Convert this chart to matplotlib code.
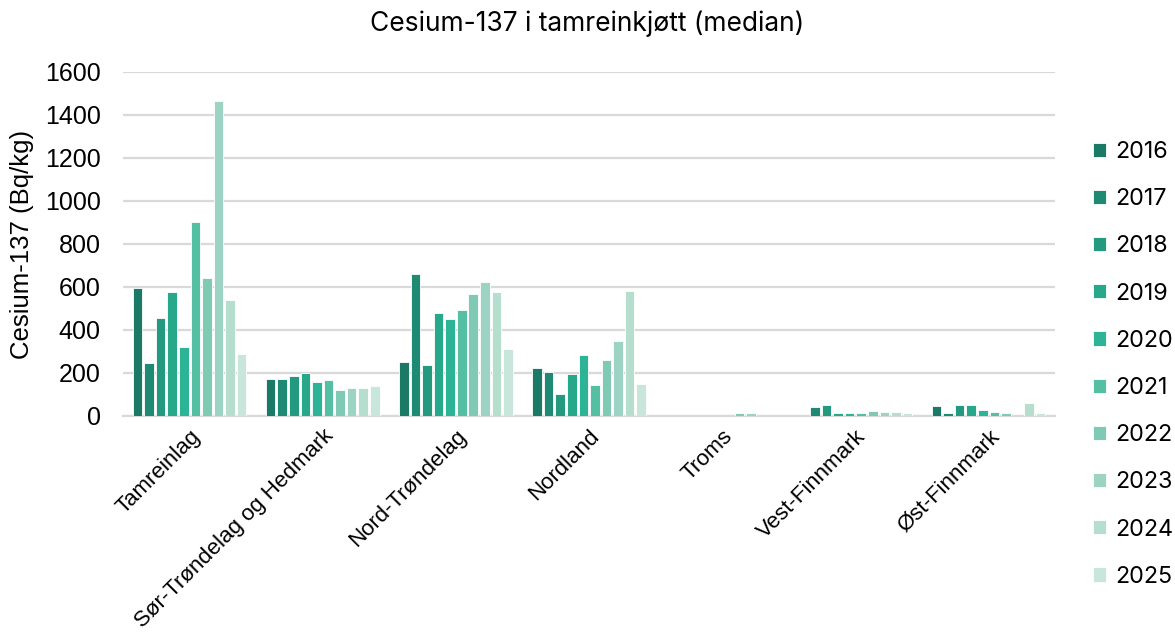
import numpy as np
import matplotlib
matplotlib.use('Agg')
import matplotlib.pyplot as plt

regions = ['Tamreinlag', 'Sør-Trøndelag og Hedmark', 'Nord-Trøndelag', 'Nordland',
           'Troms', 'Vest-Finnmark', 'Øst-Finnmark']
years = ['2016', '2017', '2018', '2019', '2020', '2021', '2022', '2023', '2024', '2025']

# one list per year, one value per region (nan = no measurement)
nan = np.nan
v2016 = [597, 170, 250, 225, nan, nan, 48]
v2017 = [248, 170, 660, 205, nan, 40, 15]
v2018 = [455, 187, 235, 100, nan, 50, 51]
v2019 = [578, 200, 478, 195, nan, 14, 53]
v2020 = [320, 160, 450, 285, nan, 14, 26]
v2021 = [900, 168, 495, 145, nan, 15, 17]
v2022 = [640, 120, 568, 260, 15, 25, 15]
v2023 = [1465, 130, 625, 350, 15, 17, nan]
v2024 = [540, 130, 575, 580, nan, 20, 62]
v2025 = [290, 140, 310, 150, nan, 15, 15]
values = [v2016, v2017, v2018, v2019, v2020, v2021, v2022, v2023, v2024, v2025]

colors = ['#1b7a66', '#1f8a73', '#239a80', '#27a88b', '#2db396',
          '#55bfa4', '#80c9b4', '#9dd3c2', '#b5dece', '#c9e6dc']

FONT = ['Liberation Sans', 'DejaVu Sans']
TITLE_FONT = ['Inter', 'DejaVu Sans']

fig = plt.figure(figsize=(11.75, 6.37), dpi=100)
ax = fig.add_axes([0.1047, 0.347, 0.7933, 0.540])

x = np.arange(len(regions))
step = 0.0869
width = 0.072
for i, (yr, vals) in enumerate(zip(years, values)):
    ax.bar(x + (i - 4.5) * step, vals, width=width, color=colors[i],
           edgecolor='white', linewidth=0.6, label=yr, zorder=3)

ax.set_xlim(-0.5, len(regions) - 0.5)
ax.set_ylim(0, 1600)
ax.set_yticks(np.arange(0, 1601, 200))
ax.grid(axis='y', color='#d9d9d9', linewidth=1.6, zorder=0)
ax.set_axisbelow(True)
for s in ['left', 'right', 'top']:
    ax.spines[s].set_visible(False)
ax.spines['bottom'].set_color('#d9d9d9')
ax.spines['bottom'].set_linewidth(1.6)

ax.tick_params(axis='both', length=0)
ax.tick_params(axis='y', pad=16)
ax.tick_params(axis='x', pad=7)
ax.set_xticks(x)
ax.set_xticklabels(regions, rotation=45, ha='right', rotation_mode='anchor',
                   family=FONT, fontsize=16)
for lbl in ax.get_yticklabels():
    lbl.set_family(FONT)
    lbl.set_fontsize(18)

ax.set_ylabel('Cesium-137 (Bq/kg)', family=FONT, fontsize=18.5, labelpad=8)

fig.text(0.5, 0.962, 'Cesium-137 i tamreinkjøtt (median)', ha='center', va='center',
         family=TITLE_FONT, fontsize=19)

leg = ax.legend(loc='center left', bbox_to_anchor=(0.922, 0.428),
                bbox_transform=fig.transFigure, frameon=False,
                prop={'family': TITLE_FONT, 'size': 16.8},
                handlelength=0.55, handleheight=0.55, handletextpad=0.4,
                labelspacing=1.08, borderaxespad=0)

fig.savefig('out.png', dpi=100)
